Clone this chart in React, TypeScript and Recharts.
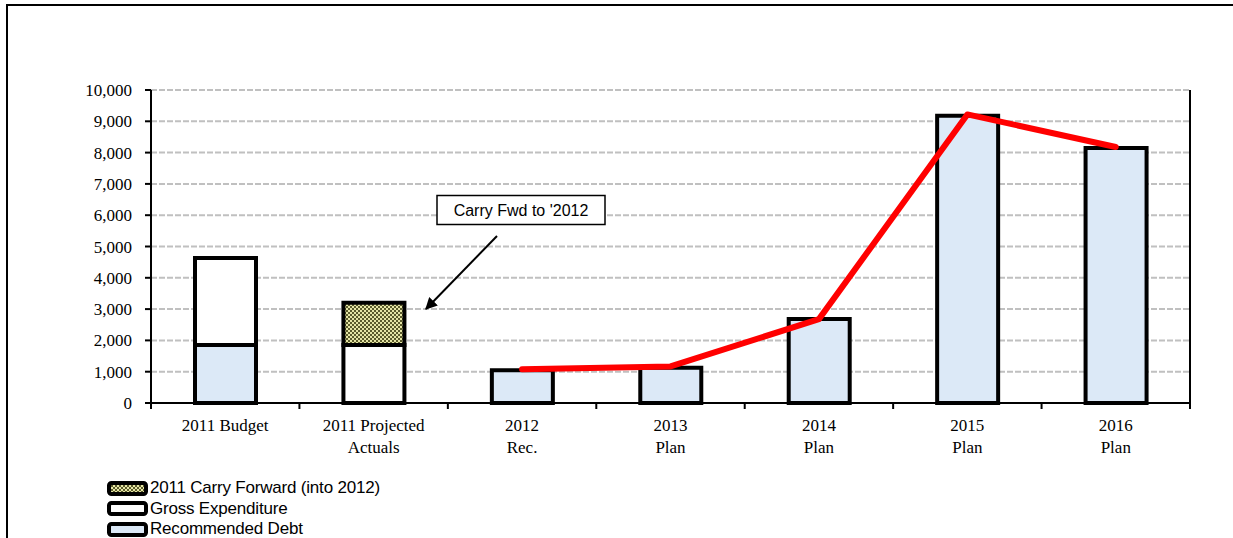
import React from "react";
import {
  ComposedChart,
  Bar,
  Line,
  XAxis,
  YAxis,
  CartesianGrid,
} from "recharts";

// ---- data ----
const categories = [
  "2011 Budget",
  "2011 Projected\nActuals",
  "2012\nRec.",
  "2013\nPlan",
  "2014\nPlan",
  "2015\nPlan",
  "2016\nPlan",
];
const recommendedDebt = [1850, 0, 1050, 1130, 2680, 9180, 8150];
const grossExpenditure = [2780, 1850, 0, 0, 0, 0, 0];
const carryForward = [0, 1350, 0, 0, 0, 0, 0];
const debtTrend = [null, null, 1080, 1170, 2680, 9220, 8180];
const yTicks = [0, 1000, 2000, 3000, 4000, 5000, 6000, 7000, 8000, 9000, 10000];

const seriesNames = {
  carry: "2011 Carry Forward (into 2012)",
  gross: "Gross Expenditure",
  debt: "Recommended Debt",
};
const annotationText = "Carry Fwd to '2012";

const data = categories.map((c, i) => ({
  name: c,
  debt: recommendedDebt[i],
  gross: grossExpenditure[i],
  carry: carryForward[i],
  trend: debtTrend[i],
}));

const SERIF = "'Liberation Serif', 'Times New Roman', serif";
const SANS = "'Liberation Sans', Arial, sans-serif";
const DEBT_FILL = "#dce9f7";
const N = categories.length;

const XTick = (props: any) => {
  const { x, y, payload } = props;
  const lines = String(payload.value).split("\n");
  const half = payload.offset || 0;
  return (
    <g>
      <line x1={x - half} x2={x - half} y1={y} y2={y + 6} stroke="#000" strokeWidth={2} />
      {payload.index === N - 1 && (
        <line x1={x + half} x2={x + half} y1={y} y2={y + 6} stroke="#000" strokeWidth={2} />
      )}
      <text
        x={x}
        y={y + 28}
        textAnchor="middle"
        fontFamily={SERIF}
        fontSize={17}
        fill="#000"
      >
        {lines.map((l, i) => (
          <tspan key={i} x={x} dy={i === 0 ? 0 : 22}>
            {l}
          </tspan>
        ))}
      </text>
    </g>
  );
};

const Swatch = ({ fill }: { fill: string }) => (
  <svg width={41} height={15} style={{ display: "block" }}>
    <rect x={2} y={2} width={37} height={11} rx={2.5} fill={fill} stroke="#000" strokeWidth={4} />
  </svg>
);

export default function App() {
  const legendRows = [
    { name: seriesNames.carry, fill: "url(#carryPattern)" },
    { name: seriesNames.gross, fill: "#ffffff" },
    { name: seriesNames.debt, fill: DEBT_FILL },
  ];
  return (
    <div
      style={{
        position: "absolute",
        left: 0,
        top: 0,
        width: 1233,
        height: 538,
        background: "#fff",
        overflow: "hidden",
      }}
    >
      <svg width={0} height={0} style={{ position: "absolute" }}>
        <defs>
          <pattern id="carryPattern" width={4} height={4} patternUnits="userSpaceOnUse">
            <rect width={4} height={4} fill="#e6e6a6" />
            <rect width={2} height={2} fill="#5c5c2c" />
            <rect x={2} y={2} width={2} height={2} fill="#5c5c2c" />
          </pattern>
        </defs>
      </svg>
      {/* outer frame */}
      <div
        style={{
          position: "absolute",
          left: 6,
          top: 4,
          width: 1240,
          height: 560,
          borderTop: "2px solid #000",
          borderLeft: "2px solid #000",
        }}
      />
      <div style={{ position: "absolute", left: 0, top: 0 }}>
        <ComposedChart
          width={1233}
          height={538}
          data={data}
          margin={{ top: 90, right: 42, left: 91, bottom: 75 }}
        >
          <CartesianGrid
            yAxisId="left"
            vertical={false}
            stroke="#c0c0c0"
            strokeWidth={2}
            strokeDasharray="6 2"
          />
          <XAxis
            dataKey="name"
            interval={0}
            height={60}
            tickLine={false}
            tickSize={0}
            tickMargin={0}
            axisLine={{ stroke: "#000", strokeWidth: 2 }}
            tick={<XTick />}
          />
          <YAxis
            yAxisId="left"
            width={60}
            domain={[0, 10000]}
            ticks={yTicks}
            interval={0}
            tickSize={6}
            tickMargin={13}
            axisLine={{ stroke: "#000", strokeWidth: 2 }}
            tickLine={{ stroke: "#000", strokeWidth: 2 }}
            tick={{ fontFamily: SERIF, fontSize: 17, fill: "#000" }}
            tickFormatter={(v: number) => v.toLocaleString("en-US")}
          />
          <YAxis
            yAxisId="right"
            orientation="right"
            width={1}
            domain={[0, 10000]}
            tick={false}
            tickLine={false}
            axisLine={{ stroke: "#000", strokeWidth: 2 }}
          />
          <Bar
            yAxisId="left"
            dataKey="debt"
            name={seriesNames.debt}
            stackId="a"
            barSize={61}
            fill={DEBT_FILL}
            stroke="#000"
            strokeWidth={4}
            isAnimationActive={false}
          />
          <Bar
            yAxisId="left"
            dataKey="gross"
            name={seriesNames.gross}
            stackId="a"
            barSize={61}
            fill="#ffffff"
            stroke="#000"
            strokeWidth={4}
            isAnimationActive={false}
          />
          <Bar
            yAxisId="left"
            dataKey="carry"
            name={seriesNames.carry}
            stackId="a"
            barSize={61}
            fill="url(#carryPattern)"
            stroke="#000"
            strokeWidth={4}
            isAnimationActive={false}
          />
          <Line
            yAxisId="left"
            dataKey="trend"
            stroke="#ff0000"
            strokeWidth={6}
            strokeLinecap="round"
            strokeLinejoin="round"
            dot={false}
            activeDot={false}
            connectNulls={false}
            isAnimationActive={false}
          />
        </ComposedChart>
      </div>
      {/* annotation */}
      <svg
        width={1233}
        height={538}
        style={{ position: "absolute", left: 0, top: 0, pointerEvents: "none" }}
      >
        <defs>
          <marker
            id="arrowHead"
            viewBox="0 0 10 10"
            refX={9}
            refY={5}
            markerWidth={6}
            markerHeight={6}
            orient="auto"
          >
            <path d="M0,0 L10,5 L0,10 z" fill="#000" />
          </marker>
        </defs>
        <rect x={437} y={195.5} width={168} height={29} fill="#fff" stroke="#000" strokeWidth={1.5} />
        <text x={521} y={216} textAnchor="middle" fontFamily={SANS} fontSize={16} fill="#000">
          {annotationText}
        </text>
        <line x1={497} y1={236} x2={426} y2={309} stroke="#000" strokeWidth={2} markerEnd="url(#arrowHead)" />
      </svg>
      {/* legend */}
      <div style={{ position: "absolute", left: 107, top: 478 }}>
        {legendRows.map((r) => (
          <div
            key={r.name}
            style={{ display: "flex", alignItems: "center", height: 20.5 }}
          >
            <Swatch fill={r.fill} />
            <span
              style={{
                fontFamily: SANS,
                fontSize: 17,
                color: "#000",
                marginLeft: 2,
                lineHeight: "20px",
                letterSpacing: "-0.2px",
                whiteSpace: "nowrap",
              }}
            >
              {r.name}
            </span>
          </div>
        ))}
      </div>
    </div>
  );
}
